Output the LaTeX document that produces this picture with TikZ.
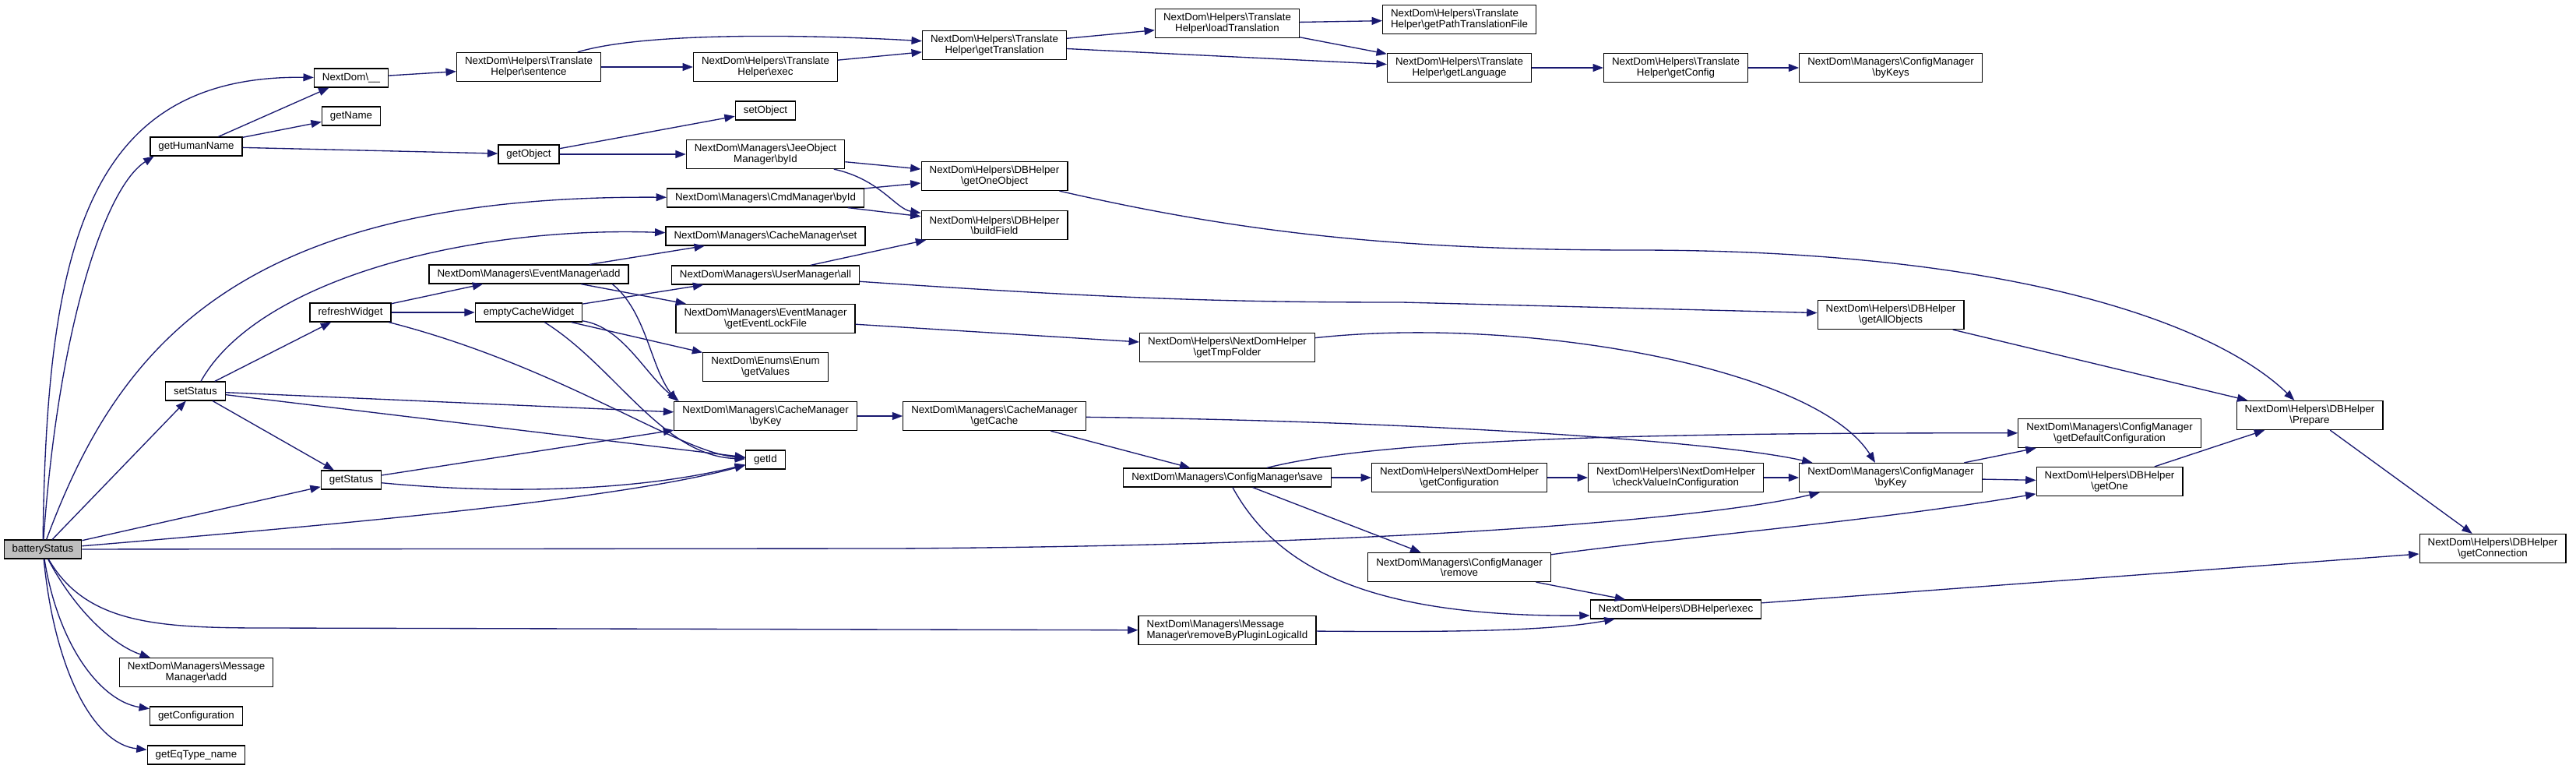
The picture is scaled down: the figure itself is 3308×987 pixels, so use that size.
\documentclass[tikz,border=0pt]{standalone}
\usepackage{fontspec}
\setmainfont{Liberation Sans}
\usepackage{xcolor}
\usepackage{tikz}
\usetikzlibrary{arrows.meta}
\definecolor{edgeblue}{HTML}{191970}
\definecolor{rootgray}{HTML}{BFBFBF}
\newcommand{\bsl}{\textbackslash}

\begin{document}
\begin{tikzpicture}[
  x=0.75pt, y=-0.75pt,
  fn/.style={rectangle, draw, line width=0.9pt, fill=white, inner xsep=7.9pt,
    inner ysep=4.2pt, minimum height=18pt, align=center,
    font=\fontsize{10}{10}\selectfont},
  fnw/.style={fn, minimum height=27.8pt},
  call/.style={-{Triangle[length=10pt,width=7.5pt]}, draw=edgeblue, line width=1pt},
]
  \path[use as bounding box, fill=white] (0,0) rectangle (3308,987);

  \node[fn, fill=rootgray] (battery) at (55,705) {batteryStatus};
  \node[fn]  (humanName) at (252,188) {getHumanName};
  \node[fn]  (setStatus) at (251,502) {setStatus};
  \node[fnw] (msgAdd)    at (252,863) {NextDom\bsl Managers\bsl Message\\Manager\bsl add};
  \node[fn]  (getConf)   at (252,919) {getConfiguration};
  \node[fn]  (eqType)    at (252,969) {getEqType\_name};

  \node[fn] (tr)        at (451,100) {NextDom\bsl\_\_};
  \node[fn] (getName)   at (451,149) {getName};
  \node[fn] (refresh)   at (450,401) {refreshWidget};
  \node[fn] (getStatus) at (451,616) {getStatus};

  \node[fnw] (sentence)   at (679,86)  {NextDom\bsl Helpers\bsl Translate\\Helper\bsl sentence};
  \node[fn]  (getObject)  at (679,198) {getObject};
  \node[fn]  (evAdd)      at (679,352) {NextDom\bsl Managers\bsl EventManager\bsl add};
  \node[fn]  (emptyCache) at (679,401) {emptyCacheWidget};

  \node[fnw] (trExec)     at (983,86)  {NextDom\bsl Helpers\bsl Translate\\Helper\bsl exec};
  \node[fn]  (setObject)  at (983,142) {setObject};
  \node[fnw] (jeeById)    at (983,198) {NextDom\bsl Managers\bsl JeeObject\\Manager\bsl byId};
  \node[fn]  (cmdById)    at (983,254) {NextDom\bsl Managers\bsl CmdManager\bsl byId};
  \node[fn]  (cacheSet)   at (983,303) {NextDom\bsl Managers\bsl CacheManager\bsl set};
  \node[fn]  (userAll)    at (983,353) {NextDom\bsl Managers\bsl UserManager\bsl all};
  \node[fnw] (lockFile)   at (983,409) {NextDom\bsl Managers\bsl EventManager\\\bsl getEventLockFile};
  \node[fnw] (enumValues) at (983,471) {NextDom\bsl Enums\bsl Enum\\\bsl getValues};
  \node[fnw] (cacheByKey) at (983,534) {NextDom\bsl Managers\bsl CacheManager\\\bsl byKey};
  \node[fn]  (getId)      at (983,590) {getId};

  \node[fnw] (getTrans)   at (1277,58)  {NextDom\bsl Helpers\bsl Translate\\Helper\bsl getTranslation};
  \node[fnw] (oneObject)  at (1277,226) {NextDom\bsl Helpers\bsl DBHelper\\\bsl getOneObject};
  \node[fnw] (buildField) at (1277,289) {NextDom\bsl Helpers\bsl DBHelper\\\bsl buildField};
  \node[fnw] (getCache)   at (1277,534) {NextDom\bsl Managers\bsl CacheManager\\\bsl getCache};

  \node[fnw] (loadTrans) at (1576,30)  {NextDom\bsl Helpers\bsl Translate\\Helper\bsl loadTranslation};
  \node[fnw] (tmpFolder) at (1576,446) {NextDom\bsl Helpers\bsl NextDomHelper\\\bsl getTmpFolder};
  \node[fn]  (cfgSave)   at (1576,613) {NextDom\bsl Managers\bsl ConfigManager\bsl save};
  \node[fnw, align=left] (msgRemove) at (1576,809) {NextDom\bsl Managers\bsl Message\\Manager\bsl removeByPluginLogicalId};

  \node[fnw, align=left] (pathFile) at (1874,25) {NextDom\bsl Helpers\bsl Translate\\Helper\bsl getPathTranslationFile};
  \node[fnw] (getLang)   at (1874,87)  {NextDom\bsl Helpers\bsl Translate\\Helper\bsl getLanguage};
  \node[fnw] (ndConfig)  at (1874,613) {NextDom\bsl Helpers\bsl NextDomHelper\\\bsl getConfiguration};
  \node[fnw] (cfgRemove) at (1874,728) {NextDom\bsl Managers\bsl ConfigManager\\\bsl remove};

  \node[fnw] (trConfig)   at (2152,87)  {NextDom\bsl Helpers\bsl Translate\\Helper\bsl getConfig};
  \node[fnw] (checkValue) at (2152,613) {NextDom\bsl Helpers\bsl NextDomHelper\\\bsl checkValueInConfiguration};
  \node[fn]  (dbExec)     at (2152,782) {NextDom\bsl Helpers\bsl DBHelper\bsl exec};

  \node[fnw] (byKeys)     at (2428,87)  {NextDom\bsl Managers\bsl ConfigManager\\\bsl byKeys};
  \node[fnw] (allObjects) at (2428,404) {NextDom\bsl Helpers\bsl DBHelper\\\bsl getAllObjects};
  \node[fnw] (cfgByKey)   at (2428,613) {NextDom\bsl Managers\bsl ConfigManager\\\bsl byKey};

  \node[fnw] (defaultConf) at (2709,556) {NextDom\bsl Managers\bsl ConfigManager\\\bsl getDefaultConfiguration};
  \node[fnw] (getOne)      at (2709,618) {NextDom\bsl Helpers\bsl DBHelper\\\bsl getOne};
  \node[fnw] (prepare)     at (2966,533) {NextDom\bsl Helpers\bsl DBHelper\\\bsl Prepare};
  \node[fnw] (connection)  at (3201,704) {NextDom\bsl Helpers\bsl DBHelper\\\bsl getConnection};

  % batteryStatus
  \draw[call] (battery) .. controls (60,320) and (110,96) .. (tr);
  \draw[call] (battery) .. controls (75,420) and (135,240) .. ([xshift=4pt]humanName.south west);
  \draw[call] (battery) .. controls (150,450) and (300,250) .. (cmdById);
  \draw[call] (battery) -- (setStatus);
  \draw[call] (battery) -- (getStatus);
  \draw[call] (battery) .. controls (450,672) and (800,640) .. (getId);
  \draw[call] (battery) -- (1150,704) .. controls (1800,700) and (2200,665) .. ([xshift=20pt]cfgByKey.south west);
  \draw[call] (battery) .. controls (110,800) and (200,806) .. (340,806) -- (msgRemove);
  \draw[call] (battery) .. controls (100,790) and (150,830) .. (msgAdd);
  \draw[call] (battery) .. controls (75,830) and (130,900) .. (getConf);
  \draw[call] (battery) .. controls (70,860) and (120,955) .. (eqType);

  \draw[call] (humanName) -- (tr);
  \draw[call] (humanName) -- (getName);
  \draw[call] (humanName) -- (getObject);

  % translation
  \draw[call] (tr) -- (sentence);
  \draw[call] (sentence) -- (trExec);
  \draw[call] (sentence) .. controls (830,40) and (1050,45) .. (getTrans);
  \draw[call] (trExec) -- (getTrans);
  \draw[call] (getTrans) -- (loadTrans);
  \draw[call] (getTrans) -- (getLang);
  \draw[call] (loadTrans) -- (pathFile);
  \draw[call] (loadTrans) -- (getLang);
  \draw[call] (getLang) -- (trConfig);
  \draw[call] (trConfig) -- (byKeys);

  % objects and db
  \draw[call] (getObject) -- (setObject);
  \draw[call] (getObject) -- (jeeById);
  \draw[call] (jeeById) -- (oneObject);
  \draw[call] (jeeById) .. controls (1130,230) and (1150,268) .. (buildField);
  \draw[call] (cmdById) -- (oneObject);
  \draw[call] (cmdById) -- (buildField);
  \draw[call] (userAll) -- (buildField);
  \draw[call] (userAll) .. controls (1450,385) and (1600,388) .. (1800,388) -- (allObjects);
  \draw[call] (oneObject) .. controls (1600,300) and (1800,321) .. (2100,321)
    .. controls (2600,321) and (2850,420) .. (prepare);
  \draw[call] (allObjects) -- (prepare);
  \draw[call] (prepare) -- (connection);

  % setStatus
  \draw[call] (setStatus) .. controls (330,360) and (600,290) .. (cacheSet);
  \draw[call] (setStatus) -- (refresh);
  \draw[call] (setStatus) -- (getStatus);
  \draw[call] (setStatus) -- (cacheByKey);
  \draw[call] (setStatus) -- (getId);

  \draw[call] (refresh) -- (evAdd);
  \draw[call] (refresh) -- (emptyCache);
  \draw[call] (refresh) .. controls (720,470) and (870,580) .. (getId);
  \draw[call] (evAdd) -- (cacheSet);
  \draw[call] (evAdd) -- (lockFile);
  \draw[call] ([xshift=-16pt]evAdd.south east) .. controls (830,400) and (835,470) .. ([xshift=3pt]cacheByKey.north west);
  \draw[call] (emptyCache) -- (userAll);
  \draw[call] (emptyCache) -- (enumValues);
  \draw[call] (emptyCache) .. controls (800,420) and (828,480) .. ([xshift=5pt]cacheByKey.north west);
  \draw[call] (emptyCache) .. controls (790,470) and (850,585) .. (getId);
  \draw[call] (lockFile) -- (tmpFolder);
  \draw[call] (tmpFolder) .. controls (1950,405) and (2330,470) .. ([xshift=-15pt]cfgByKey.north);

  \draw[call] (getStatus) -- (cacheByKey);
  \draw[call] (getStatus) .. controls (650,635) and (820,630) .. (getId);

  % cache and config
  \draw[call] (cacheByKey) -- (getCache);
  \draw[call] (getCache) -- (cfgSave);
  \draw[call] (getCache) .. controls (1800,540) and (2200,565) .. ([xshift=13pt]cfgByKey.north west);
  \draw[call] (cfgSave) .. controls (1750,570) and (2000,555) .. (defaultConf);
  \draw[call] (cfgSave) -- (ndConfig);
  \draw[call] (cfgSave) -- (cfgRemove);
  \draw[call] (cfgSave) .. controls (1640,730) and (1760,792) .. ([yshift=-6pt]dbExec.west);
  \draw[call] (ndConfig) -- (checkValue);
  \draw[call] (checkValue) -- (cfgByKey);
  \draw[call] (cfgByKey) -- (defaultConf);
  \draw[call] (cfgByKey) -- (getOne);
  \draw[call] (cfgRemove) .. controls (2150,690) and (2400,670) .. (getOne);
  \draw[call] (cfgRemove) -- (dbExec);
  \draw[call] (msgRemove) .. controls (1900,812) and (2000,808) .. ([xshift=24pt]dbExec.south west);
  \draw[call] (dbExec) -- (connection);
  \draw[call] (getOne) -- (prepare);
\end{tikzpicture}
\end{document}
